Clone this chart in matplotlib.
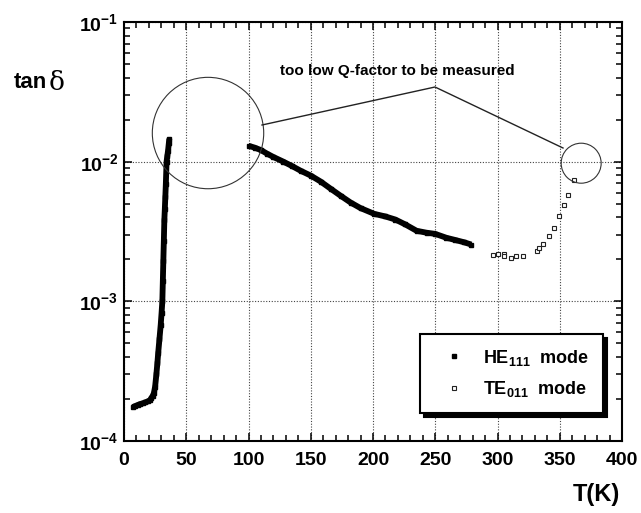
import matplotlib
matplotlib.use("Agg")
import matplotlib.pyplot as plt
from matplotlib.patches import Ellipse
from matplotlib.ticker import MultipleLocator, LogLocator, NullFormatter, FixedLocator

plt.rcParams['font.family'] = ['Liberation Sans', 'DejaVu Sans']
plt.rcParams['mathtext.fontset'] = 'custom'
plt.rcParams['mathtext.rm'] = 'Liberation Sans:bold'
plt.rcParams['mathtext.bf'] = 'Liberation Sans:bold'
plt.rcParams['mathtext.it'] = 'Liberation Sans:bold'

# HE111 mode, low-temperature branch
he_low_T = [7, 9, 11, 13, 15, 17, 19, 21, 22, 23, 24, 25, 26, 26.8, 27.5, 28.5, 29.5, 30.2,
            30.8, 31.2, 31.6, 32.0, 32.4, 32.8, 33.2, 33.6, 34.2, 34.8, 35.4, 36.0, 36.4]
he_low_tan = [1.75e-4, 1.78e-4, 1.81e-4, 1.84e-4, 1.86e-4, 1.89e-4, 1.92e-4, 1.96e-4, 2.03e-4,
              2.1e-4, 2.2e-4, 2.45e-4, 3.0e-4, 3.6e-4, 4.3e-4, 5.4e-4, 6.8e-4, 8.3e-4,
              1.0e-3, 1.4e-3, 1.95e-3, 2.7e-3, 3.8e-3, 4.6e-3, 5.6e-3, 6.9e-3, 1.0e-2,
              1.1e-2, 1.2e-2, 1.35e-2, 1.46e-2]

# HE111 mode, high-temperature branch
he_high_T = [100, 105, 110, 115, 120, 128, 135, 142, 150, 158, 166, 174, 182, 190, 201,
             210, 218, 226, 235, 243, 250, 259, 266, 273, 279]
he_high_tan = [1.30e-2, 1.26e-2, 1.21e-2, 1.14e-2, 1.08e-2, 1.0e-2, 9.3e-3, 8.6e-3, 7.95e-3,
               7.2e-3, 6.4e-3, 5.7e-3, 5.1e-3, 4.65e-3, 4.23e-3, 4.05e-3, 3.85e-3, 3.55e-3,
               3.2e-3, 3.1e-3, 3.04e-3, 2.85e-3, 2.75e-3, 2.65e-3, 2.55e-3]

# TE011 mode
te_T = [296, 300.6, 305, 305, 310.6, 314.6, 320.7, 331.4, 333.5, 336.5, 341.6, 345,
        349.4, 353.6, 357, 361.6]
te_tan = [2.16e-3, 2.17e-3, 2.2e-3, 2.1e-3, 2.05e-3, 2.1e-3, 2.1e-3, 2.28e-3, 2.39e-3,
          2.58e-3, 2.96e-3, 3.34e-3, 4.09e-3, 4.9e-3, 5.78e-3, 7.4e-3]

x_ticks = [0, 50, 100, 150, 200, 250, 300, 350, 400]
y_ticks = [1e-4, 1e-3, 1e-2, 1e-1]
y_ticklabels = [r'$\mathbf{10^{-4}}$', r'$\mathbf{10^{-3}}$', r'$\mathbf{10^{-2}}$', r'$\mathbf{10^{-1}}$']

fig = plt.figure(figsize=(6.41, 5.13), dpi=100)
ax = fig.add_axes([124/641, 72/513, 498/641, 419/513])

# HE111 (dense filled squares, drawn as a thick trace)
for T, v in [(he_low_T, he_low_tan), (he_high_T, he_high_tan)]:
    ax.plot(T, v, color='black', lw=4.2, solid_capstyle='butt', solid_joinstyle='round', zorder=3)
    ax.plot(T, v, 's', color='black', ms=3.2, zorder=3)
ax.plot([], [], 's', color='black', ms=2.6, label=r'HE$_{\mathbf{111}}$  mode')
ax.plot(te_T, te_tan, 's', mfc='white', mec='#222222', mew=0.8, ms=3.2, ls='none',
        label=r'TE$_{\mathbf{011}}$  mode', zorder=3)

ax.set_yscale('log')
ax.set_xlim(0, 400)
ax.set_ylim(1e-4, 1e-1)
ax.xaxis.set_major_locator(FixedLocator(x_ticks))
ax.xaxis.set_minor_locator(MultipleLocator(10))
ax.set_yticks(y_ticks)
ax.set_yticklabels(y_ticklabels)
ax.yaxis.set_minor_locator(LogLocator(base=10, subs=range(2, 10)))
ax.yaxis.set_minor_formatter(NullFormatter())
ax.set_xticklabels([str(t) for t in x_ticks], fontweight='bold')

ax.tick_params(which='both', direction='in', top=True, right=True, width=1.1, labelsize=14)
ax.tick_params(which='major', length=6)
ax.tick_params(which='minor', length=4)
ax.tick_params(axis='x', pad=8)
ax.tick_params(axis='y', pad=4)
for s in ax.spines.values():
    s.set_linewidth(1.5)

ax.grid(True, which='major', ls=(0, (1, 1.5)), color='#444444', lw=0.8)

# circles marking missing region
ax.add_patch(Ellipse((0.1687, 0.735), 111.4/498, 111.4/419, transform=ax.transAxes,
                     fill=False, ec='#333333', lw=0.8, zorder=4))
ax.add_patch(Ellipse((0.918, 0.663), 40/498, 40/419, transform=ax.transAxes,
                     fill=False, ec='#333333', lw=0.8, zorder=4))

def px2ax(px, py):
    return ((px - 124) / 498, (441 - py) / 419)

v = px2ax(435, 87)
a = px2ax(262, 125)
b = px2ax(563, 148)
ax.plot([a[0], v[0], b[0]], [a[1], v[1], b[1]], transform=ax.transAxes, color='#222222',
        lw=1.0, zorder=4)
ax.text(px2ax(280, 71)[0], px2ax(280, 71)[1], 'too low Q-factor to be measured',
        transform=ax.transAxes, fontsize=11, fontweight='bold', va='center', ha='left')

leg = ax.legend(loc='upper right', bbox_to_anchor=(0.962, 0.255), frameon=True,
                fancybox=False, shadow={'color': 'black', 'alpha': 1, 'ox': 3, 'oy': -3},
                edgecolor='black', prop={'weight': 'bold', 'size': 13}, handlelength=2.3,
                handletextpad=0.47, borderpad=0.75, labelspacing=0.65, borderaxespad=0)
leg.get_frame().set_linewidth(1.5)
leg.set_zorder(5)

fig.text(14/641, 1 - 82/513, 'tan', fontsize=16, fontweight='bold', va='center', ha='left')
fig.text(49/641, 1 - 83/513, 'δ', fontsize=19, fontweight='normal', va='center', ha='left',
         family=['DejaVu Serif'])
fig.text(620/641, 1 - 495/513, 'T(K)', fontsize=17, fontweight='bold', va='center', ha='right')

fig.savefig('out.png', dpi=100)
